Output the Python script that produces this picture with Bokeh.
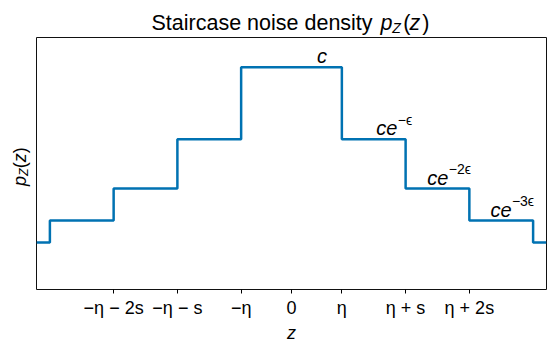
import math
from bokeh.plotting import figure
from bokeh.layouts import column, row
from bokeh.models import Range1d, FixedTicker, Label, CustomJSTickFormatter, Div
from bokeh.embed import file_html
from bokeh.resources import INLINE

# ---- data ----
eta = 0.79
s = 1.0
# density levels: c, c e^-eps, c e^-2eps, c e^-3eps, c e^-4eps  (c = 1)
levels = [1.0, 0.676, 0.454, 0.31, 0.211]
tick_labels = ["−η − 2s", "−η − s", "−η", "0", "η", "η + s", "η + 2s"]
ann_main = ["c", "ce", "ce", "ce"]
ann_sup = ["", "−ϵ", "−2ϵ", "−3ϵ"]
ann_x = [0.40, 1.33, 2.13, 3.12]

FONT = "Liberation Sans"
BLUE = "#0072B2"
BL = 0.25  # empirical baseline correction (fraction of font size)

tick_vals = [-(eta + 2 * s), -(eta + s), -eta, 0.0, eta, eta + s, eta + 2 * s]
edges = [-4.0, -(eta + 3 * s), -(eta + 2 * s), -(eta + s), -eta,
         eta, eta + s, eta + 2 * s, eta + 3 * s, 4.0]
seg = [levels[4], levels[3], levels[2], levels[1], levels[0],
       levels[1], levels[2], levels[3], levels[4]]
ys = seg + [seg[-1]]

W_TOTAL, H_TOTAL, TITLE_H, YLAB_W = 548, 345, 36, 30
MAIN_H = H_TOTAL - TITLE_H


def lab(fig, x, y, t, size, style="normal"):
    fig.add_layout(Label(x=x, y=y, text=t, text_font=FONT, text_font_size=f"{size}px",
                         text_font_style=style, text_color="black",
                         text_baseline="alphabetic", text_align="left"))


# ---- title strip: x = image px, y = TITLE_H - image py (+ baseline correction) ----
tf = figure(width=W_TOTAL, height=TITLE_H, x_range=Range1d(0, W_TOTAL), y_range=Range1d(0, TITLE_H),
            output_backend="svg", toolbar_location=None, title=None,
            min_border=0, x_axis_location=None, y_axis_location=None)
tf.grid.visible = False
tf.outline_line_color = None
tf.background_fill_color = "white"
tf.border_fill_color = "white"
tb = TITLE_H - 28.3 + BL * 21.5
lab(tf, 151, tb, "Staircase noise density", 21.5)
lab(tf, 380, tb, "p", 21.5, "italic")
lab(tf, 391.7, TITLE_H - 30.7 + BL * 14, "Z", 14, "italic")
lab(tf, 402.7, tb, "(", 21.5)
lab(tf, 409, tb, "z", 21.5, "italic")
lab(tf, 421.7, tb, ")", 21.5)

# ---- rotated y-axis label ----
ylab_html = (
    f'<div style="position:relative;width:{YLAB_W}px;height:{MAIN_H}px;overflow:visible;margin:0;padding:0;">'
    f'<span style="position:absolute;left:10.5px;top:{186 - TITLE_H}px;transform-origin:0 0;'
    f'transform:rotate(-90deg);font-family:\'{FONT}\';font-size:18px;line-height:1;'
    f'white-space:nowrap;color:black;">'
    f'<i>p</i><sub style="font-size:12.5px;line-height:0;vertical-align:-2.4px;"><i>Z</i></sub>'
    f'(<i>z</i>)</span></div>'
)
ydiv = Div(text=ylab_html, width=YLAB_W, height=MAIN_H, margin=0)

# ---- main plot ----
p = figure(width=W_TOTAL - YLAB_W, height=MAIN_H, x_range=Range1d(-4, 4), y_range=Range1d(0, 1.134),
           output_backend="svg", toolbar_location=None, title=None,
           y_axis_location=None,
           min_border_left=6, min_border_right=2, min_border_top=1, min_border_bottom=54)
p.grid.visible = False
p.outline_line_color = "#111111"
p.outline_line_width = 1
p.background_fill_color = "white"
p.border_fill_color = "white"

p.step(edges, ys, mode="after", line_color=BLUE, line_width=2.5)

ax = p.xaxis[0]
ax.ticker = FixedTicker(ticks=tick_vals)
ax.formatter = CustomJSTickFormatter(args=dict(vals=tick_vals, labs=tick_labels), code="""
let best = 0; let d = 1e9;
for (let i = 0; i < vals.length; i++) { const dd = Math.abs(vals[i] - tick); if (dd < d) { d = dd; best = i; } }
return labs[best];
""")
ax.axis_line_color = None
ax.major_tick_line_color = "black"
ax.major_tick_out = 4
ax.major_tick_in = 0
ax.minor_tick_line_color = None
ax.major_label_text_font = FONT
ax.major_label_text_font_size = "18px"
ax.major_label_text_color = "black"
ax.major_label_standoff = 4
ax.axis_label = "z"
ax.axis_label_text_font = FONT
ax.axis_label_text_font_style = "italic"
ax.axis_label_text_font_size = "18px"
ax.axis_label_text_color = "black"
ax.axis_label_standoff = 2

# level annotations
lvl_for_ann = [levels[0], levels[1], levels[2], levels[3]]
for m, sup, xx, lv in zip(ann_main, ann_sup, ann_x, lvl_for_ann):
    p.add_layout(Label(x=xx, y=lv, text=m, text_font=FONT, text_font_size="20px",
                       text_font_style="italic", text_color="black",
                       text_baseline="alphabetic", x_offset=0, y_offset=6 + BL * 20))
    if sup:
        p.add_layout(Label(x=xx, y=lv, text=sup, text_font=FONT, text_font_size="14px",
                           text_color="black", text_baseline="alphabetic",
                           x_offset=21.5, y_offset=16 + BL * 14))

layout = column(tf, row(ydiv, p))
open("out.html", "w").write(file_html(layout, INLINE))
